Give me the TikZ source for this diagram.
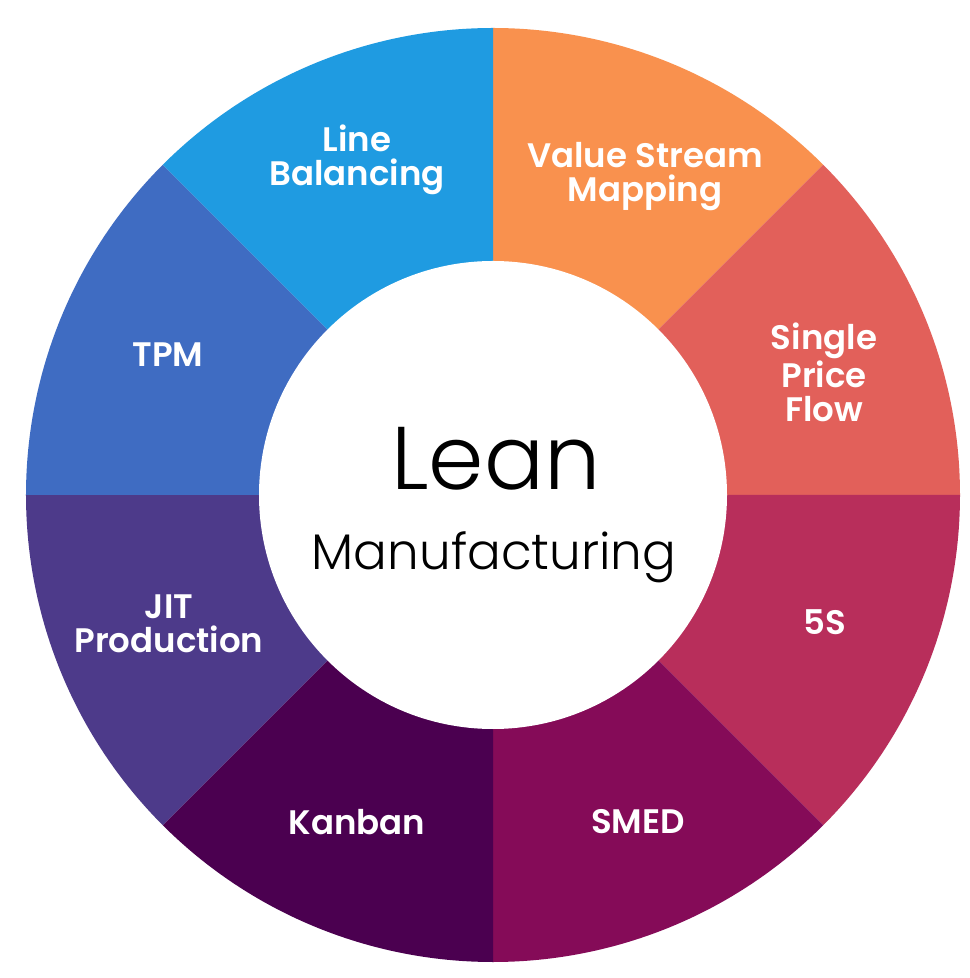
\documentclass[tikz,border=0pt]{standalone}
\usepackage{fontspec}
\setmainfont{Poppins}[BoldFont={Poppins SemiBold}]
\newfontfamily\leanfont{Poppins Light}
\definecolor{lbblue}{HTML}{1F9BE1}
\definecolor{vsmorange}{HTML}{F9914E}
\definecolor{spfred}{HTML}{E2605A}
\definecolor{fivesred}{HTML}{B82E5B}
\definecolor{smedplum}{HTML}{850B58}
\definecolor{kanbanplum}{HTML}{4B0050}
\definecolor{jitpurple}{HTML}{4D3A8A}
\definecolor{tpmblue}{HTML}{3F6CC2}
\begin{document}
\begin{tikzpicture}[x=0.5pt, y=0.5pt,
    every node/.style={font=\bfseries\fontsize{17}{17}\selectfont, text=white, align=center}]
    \useasboundingbox[fill=white] (-493,-483) rectangle (476,495);
    % ring segments, clockwise from the top
    \foreach \a/\col in {45/vsmorange, 0/spfred, -45/fivesred, -90/smedplum,
                         -135/kanbanplum, 180/jitpurple, 135/tpmblue, 90/lbblue}
        \fill[\col] (0,0) -- (\a:467) arc[start angle=\a, end angle=\a+45, radius=467] -- cycle;
    \fill[white] (0,0) circle[radius=234];
    % labels
    \node (lb)   at (-136,335) {Line\\Balancing};
    \node (vsm)  at (152,318)  {Value Stream\\Mapping};
    \node (spf)  at (331,123)  {Single\\Price\\Flow};
    \node (fives) at (332,-127) {5S};
    \node (smed) at (145,-327) {SMED};
    \node (kanban) at (-136,-327) {Kanban};
    \node (jit)  at (-324,-129) {JIT\\Production};
    \node (tpm)  at (-325,140) {TPM};
    % centre
    \node[anchor=base, text=black, font=\leanfont\fontsize{44.5}{44.5}\selectfont] (lean) at (3,5) {Lean};
    \node[anchor=base, text=black, font=\leanfont\fontsize{25}{25}\selectfont] (manu) at (1,-75) {Manufacturing};
\end{tikzpicture}
\end{document}
